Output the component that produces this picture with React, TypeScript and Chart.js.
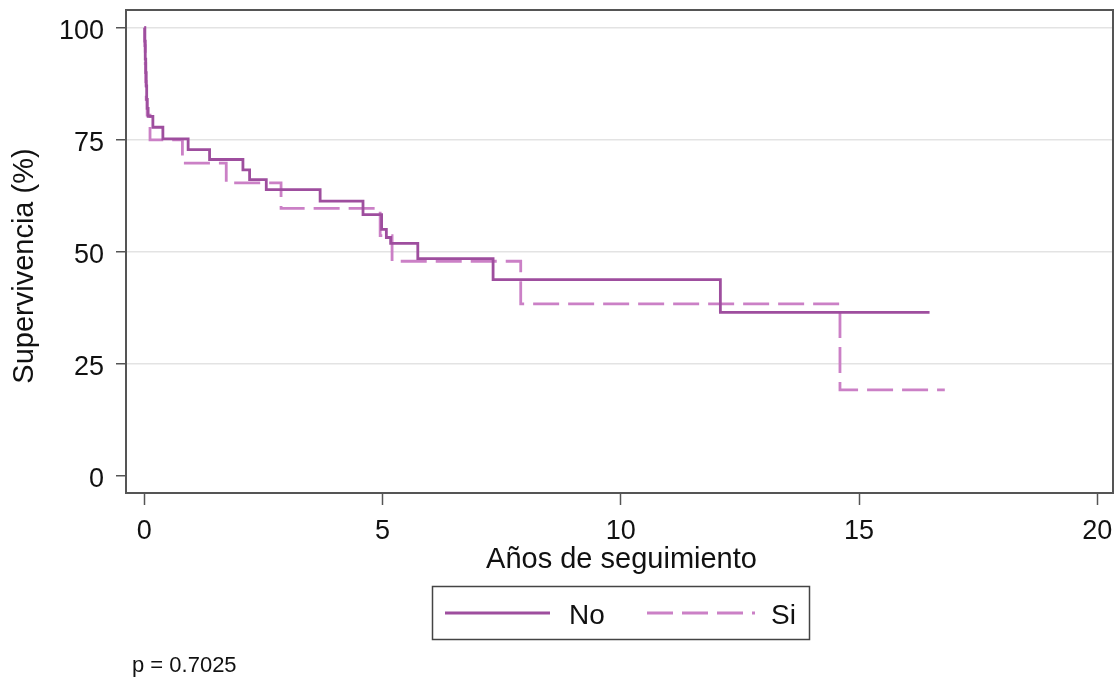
import React, { useEffect, useRef } from "react";
import { Chart, registerables } from "chart.js";

Chart.register(...registerables);

// ---- data ----
const xTicks = [0, 5, 10, 15, 20];
const yTicks = [0, 25, 50, 75, 100];

const noTimes = [0, 0.01, 0.02, 0.03, 0.04, 0.05, 0.06, 0.08, 0.18, 0.39, 0.92, 1.37, 2.07, 2.21, 2.56, 3.69, 4.59, 4.98, 5.08, 5.17, 5.74, 7.32, 12.09, 16.48];
const noSurv = [100, 97, 93, 90, 87, 84, 82, 80.2, 77.8, 75.2, 72.8, 70.6, 68.3, 66.1, 63.9, 61.3, 58.3, 55.0, 53.2, 51.9, 48.5, 43.8, 36.5, 36.5];

const siTimes = [0, 0.01, 0.02, 0.03, 0.04, 0.06, 0.12, 0.8, 1.72, 2.87, 4.95, 5.2, 7.9, 14.6, 16.8];
const siSurv = [100, 96, 92, 88, 84, 80.5, 75.0, 69.8, 65.4, 59.7, 53.6, 47.9, 38.4, 19.2, 19.2];

const seriesLabels = ["No", "Si"];
const xTitle = "Años de seguimiento";
const yTitle = "Supervivencia (%)";
const pText = "p = 0.7025";

const FONT = '"Liberation Sans", Arial, Helvetica, sans-serif';
const noColor = "rgb(158,78,158)";
const siColor = "rgb(203,128,198)";
const DASH = [26, 9];

export default function App() {
  const ref = useRef<HTMLCanvasElement>(null);

  useEffect(() => {
    const canvas = ref.current!;
    const decor = {
      id: "decor",
      afterDatasetsDraw(chart: any) {
        const { ctx, chartArea: a } = chart;
        ctx.save();
        // frame
        ctx.strokeStyle = "#555";
        ctx.lineWidth = 2;
        ctx.strokeRect(a.left, a.top, a.right - a.left, a.bottom - a.top);

        ctx.fillStyle = "#111";
        ctx.textBaseline = "middle";
        // x title
        ctx.font = `29px ${FONT}`;
        ctx.textAlign = "center";
        ctx.fillText(xTitle, (a.left + a.right) / 2 + 2, 560);
        // y title
        ctx.save();
        ctx.translate(25, 266);
        ctx.rotate(-Math.PI / 2);
        ctx.fillText(yTitle, 0, 0);
        ctx.restore();

        // legend
        ctx.strokeStyle = "#444";
        ctx.lineWidth = 1.5;
        ctx.strokeRect(432.5, 586.5, 377, 53);
        ctx.lineWidth = 3;
        ctx.strokeStyle = noColor;
        ctx.beginPath();
        ctx.moveTo(445, 613);
        ctx.lineTo(550, 613);
        ctx.stroke();
        ctx.strokeStyle = siColor;
        ctx.setLineDash(DASH);
        ctx.beginPath();
        ctx.moveTo(647, 613);
        ctx.lineTo(755, 613);
        ctx.stroke();
        ctx.setLineDash([]);
        ctx.font = `28px ${FONT}`;
        ctx.textAlign = "left";
        ctx.fillText(seriesLabels[0], 569, 616);
        ctx.fillText(seriesLabels[1], 771, 616);

        // p value
        ctx.font = `22px ${FONT}`;
        ctx.fillText(pText, 132, 666);
        ctx.restore();
      },
    };

    const chart = new Chart(canvas, {
      type: "line",
      data: {
        datasets: [
          {
            label: seriesLabels[0],
            data: noTimes.map((t, i) => ({ x: t, y: noSurv[i] })),
            borderColor: noColor,
            borderWidth: 2.8,
            stepped: "before",
            pointRadius: 0,
            fill: false,
          },
          {
            label: seriesLabels[1],
            data: siTimes.map((t, i) => ({ x: t, y: siSurv[i] })),
            borderColor: siColor,
            borderWidth: 2.8,
            borderDash: DASH,
            stepped: "before",
            pointRadius: 0,
            fill: false,
          },
        ],
      },
      options: {
        responsive: false,
        animation: false,
        devicePixelRatio: 1,
        layout: { padding: { top: 10, right: 7, left: 0, bottom: 0 } },
        plugins: { legend: { display: false }, tooltip: { enabled: false } },
        scales: {
          x: {
            type: "linear",
            min: -0.384,
            max: 20.33,
            afterBuildTicks: (s: any) => {
              s.ticks = xTicks.map((v) => ({ value: v }));
            },
            afterFit: (s: any) => {
              s.height = 190;
              s.paddingLeft = 0;
              s.paddingRight = 0;
            },
            border: { display: false },
            grid: {
              drawOnChartArea: false,
              drawTicks: true,
              tickLength: 12,
              tickColor: "#555",
              tickWidth: 1.5,
            },
            ticks: {
              font: { family: FONT, size: 27 },
              color: "#111",
              padding: 10,
              maxRotation: 0,
              autoSkip: false,
            },
          },
          y: {
            type: "linear",
            min: -3.79,
            max: 103.95,
            afterBuildTicks: (s: any) => {
              s.ticks = yTicks.map((v) => ({ value: v }));
            },
            afterFit: (s: any) => {
              s.width = 126;
              s.paddingTop = 0;
              s.paddingBottom = 0;
            },
            border: { display: false },
            grid: {
              color: (c: any) => (c.tick && c.tick.value === 0 ? "rgba(0,0,0,0)" : "#e3e3e3"),
              lineWidth: 1.5,
              drawTicks: true,
              tickLength: 10,
              tickColor: "#555",
              tickWidth: 1.5,
            },
            ticks: {
              font: { family: FONT, size: 27 },
              color: "#111",
              padding: 12,
              labelOffset: 4,
              autoSkip: false,
            },
          },
        },
      },
      plugins: [decor],
    });
    return () => chart.destroy();
  }, []);

  return (
    <div style={{ position: "fixed", left: 0, top: 0, width: 1120, height: 683, background: "#fff" }}>
      <canvas ref={ref} width={1120} height={683} style={{ width: 1120, height: 683, display: "block" }} />
    </div>
  );
}
